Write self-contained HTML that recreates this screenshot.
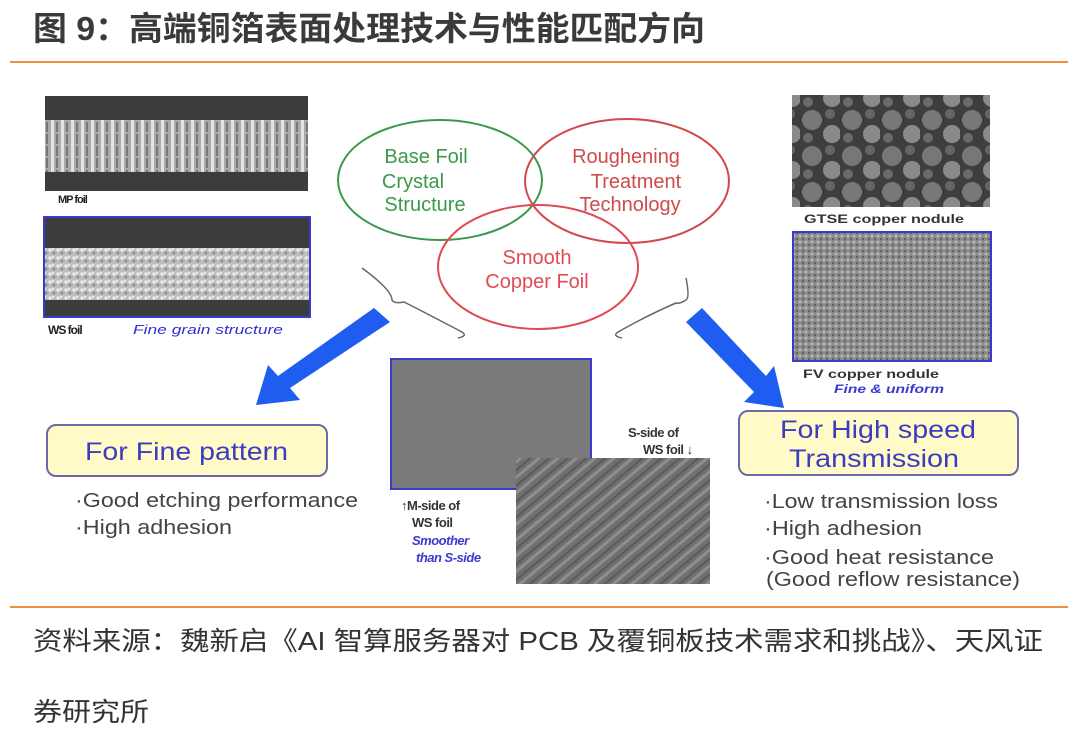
<!DOCTYPE html>
<html><head><meta charset="utf-8"><style>
html,body{margin:0;padding:0;background:#fff;width:1080px;height:735px;overflow:hidden}
svg{display:block}
.t{font-family:"Liberation Sans","Noto Sans CJK SC",sans-serif}
</style></head><body>
<svg width="1080" height="735" viewBox="0 0 1080 735" xmlns="http://www.w3.org/2000/svg">
<defs>
<pattern id="grain" width="8" height="8" patternUnits="userSpaceOnUse"><rect width="8" height="8" fill="#bdbdbd"/><circle cx="2" cy="2" r="1.6" fill="#eee"/><circle cx="6" cy="5" r="1.4" fill="#888"/><circle cx="5" cy="1" r="1" fill="#fff"/></pattern>
<pattern id="col" width="10" height="12" patternUnits="userSpaceOnUse"><rect width="10" height="12" fill="#aaa"/><rect x="1" width="3" height="12" fill="#e4e4e4"/><rect x="6" y="2" width="2" height="10" fill="#777"/></pattern>
<pattern id="fv" width="6" height="6" patternUnits="userSpaceOnUse"><rect width="6" height="6" fill="#8a8a8a"/><circle cx="2" cy="2" r="1.4" fill="#bbb"/><circle cx="5" cy="5" r="1" fill="#555"/></pattern>
<pattern id="nod" width="40" height="36" patternUnits="userSpaceOnUse"><rect width="40" height="36" fill="#3e3e3e"/><circle cx="12" cy="12" r="10" fill="#777"/><circle cx="32" cy="26" r="9" fill="#8a8a8a"/><circle cx="30" cy="6" r="5" fill="#666"/><circle cx="8" cy="30" r="5" fill="#6a6a6a"/></pattern>
<pattern id="diag" width="12" height="12" patternUnits="userSpaceOnUse" patternTransform="rotate(-40)"><rect width="12" height="12" fill="#707070"/><rect width="12" height="3" fill="#8e8e8e"/><rect y="7" width="12" height="2" fill="#5a5a5a"/></pattern>
</defs>
<text x="33" y="40" class="t" font-size="33" font-weight="bold" fill="#3a3a3a" textLength="672" lengthAdjust="spacingAndGlyphs">图 9：高端铜箔表面处理技术与性能匹配方向</text>
<rect x="10" y="61" width="1058" height="2" fill="#f0903a"/>

<rect x="45" y="96" width="263" height="95" fill="#3c3c3c"/>
<rect x="45" y="120" width="263" height="52" fill="url(#col)"/>
<text x="58" y="203" class="t" font-size="11" font-weight="bold" fill="#222" letter-spacing="-1">MP foil</text>
<rect x="44" y="217" width="266" height="100" fill="#3c3c3c" stroke="#3a3ad0" stroke-width="2"/>
<rect x="45" y="248" width="264" height="52" fill="url(#grain)"/>
<text x="48" y="334" class="t" font-size="12" font-weight="bold" fill="#222" letter-spacing="-1">WS foil</text>
<text x="133" y="334" class="t" font-size="13" font-style="italic" fill="#3030d0" textLength="150" lengthAdjust="spacingAndGlyphs">Fine grain structure</text>

<ellipse cx="440" cy="180" rx="102" ry="60" fill="none" stroke="#3a9a4a" stroke-width="2"/>
<ellipse cx="627" cy="181" rx="102" ry="62" fill="none" stroke="#d04a4a" stroke-width="2"/>
<ellipse cx="538" cy="267" rx="100" ry="62" fill="none" stroke="#e04a55" stroke-width="2"/>
<g class="t" font-size="20" text-anchor="middle">
<text x="426" y="163" fill="#3a9a4a">Base Foil</text>
<text x="413" y="188" fill="#3a9a4a">Crystal</text>
<text x="425" y="211" fill="#3a9a4a">Structure</text>
<text x="626" y="163" fill="#d04a4a">Roughening</text>
<text x="636" y="188" fill="#d04a4a">Treatment</text>
<text x="630" y="211" fill="#d04a4a">Technology</text>
<text x="537" y="264" fill="#e04a55">Smooth</text>
<text x="537" y="288" fill="#e04a55">Copper Foil</text>
</g>
<path d="M362 268 Q392 290 392 300 Q394 304 404 302 Q420 310 462 332 Q468 336 458 338" fill="none" stroke="#666" stroke-width="1.5"/>
<path d="M686 278 Q690 298 686 300 Q680 304 676 303 Q650 314 618 332 Q612 336 622 338" fill="none" stroke="#666" stroke-width="1.5"/>
<polygon points="374,308 390,322 290,388 300,400 256,405 268,365 278,376" fill="#1f5cf0"/>
<polygon points="702,308 686,322 754,392 744,402 784,408 774,366 766,376" fill="#1f5cf0"/>

<rect x="47" y="425" width="280" height="51" rx="9" fill="#fffac8" stroke="#6a6aa8" stroke-width="2"/>
<text x="85" y="460" class="t" font-size="25" fill="#3c3cc0" textLength="203" lengthAdjust="spacingAndGlyphs">For Fine pattern</text>
<text x="75" y="507" class="t" font-size="20" fill="#444" textLength="283" lengthAdjust="spacingAndGlyphs">·Good etching performance</text>
<text x="75" y="534" class="t" font-size="20" fill="#444" textLength="157" lengthAdjust="spacingAndGlyphs">·High adhesion</text>

<rect x="391" y="359" width="200" height="130" fill="#7a7a7a" stroke="#3a3ad0" stroke-width="2"/>
<rect x="516" y="458" width="194" height="126" fill="url(#diag)"/>
<text x="628" y="437" class="t" font-size="13" font-weight="bold" fill="#333" letter-spacing="-0.5">S-side of</text>
<text x="643" y="454" class="t" font-size="13" font-weight="bold" fill="#333" letter-spacing="-0.5">WS foil ↓</text>
<text x="401" y="510" class="t" font-size="13" font-weight="bold" fill="#333" letter-spacing="-0.5">↑M-side of</text>
<text x="412" y="527" class="t" font-size="13" font-weight="bold" fill="#333" letter-spacing="-0.5">WS foil</text>
<text x="412" y="545" class="t" font-size="13" font-weight="bold" font-style="italic" fill="#3a3ad0" letter-spacing="-0.5">Smoother</text>
<text x="416" y="562" class="t" font-size="13" font-weight="bold" font-style="italic" fill="#3a3ad0" letter-spacing="-0.5">than S-side</text>

<rect x="792" y="95" width="198" height="112" fill="url(#nod)"/>
<text x="804" y="223" class="t" font-size="12" font-weight="bold" fill="#333" textLength="160" lengthAdjust="spacingAndGlyphs">GTSE copper nodule</text>
<rect x="793" y="232" width="198" height="129" fill="url(#fv)" stroke="#3a3ad0" stroke-width="2"/>
<text x="803" y="378" class="t" font-size="12" font-weight="bold" fill="#333" textLength="136" lengthAdjust="spacingAndGlyphs">FV copper nodule</text>
<text x="834" y="393" class="t" font-size="12" font-weight="bold" font-style="italic" fill="#3a3ad0" textLength="110" lengthAdjust="spacingAndGlyphs">Fine &amp; uniform</text>

<rect x="739" y="411" width="279" height="64" rx="9" fill="#fffac8" stroke="#6a6aa8" stroke-width="2"/>
<text x="780" y="438" class="t" font-size="25" fill="#3c3cc0" textLength="196" lengthAdjust="spacingAndGlyphs">For High speed</text>
<text x="789" y="467" class="t" font-size="25" fill="#3c3cc0" textLength="170" lengthAdjust="spacingAndGlyphs">Transmission</text>
<text x="764" y="508" class="t" font-size="20" fill="#444" textLength="234" lengthAdjust="spacingAndGlyphs">·Low transmission loss</text>
<text x="764" y="535" class="t" font-size="20" fill="#444" textLength="158" lengthAdjust="spacingAndGlyphs">·High adhesion</text>
<text x="764" y="564" class="t" font-size="20" fill="#444" textLength="230" lengthAdjust="spacingAndGlyphs">·Good heat resistance</text>
<text x="766" y="586" class="t" font-size="20" fill="#444" textLength="254" lengthAdjust="spacingAndGlyphs">(Good reflow resistance)</text>

<rect x="10" y="606" width="1058" height="2" fill="#f0903a"/>
<text x="33" y="650" class="t" font-size="26" fill="#333" textLength="1010" lengthAdjust="spacingAndGlyphs">资料来源：魏新启《AI 智算服务器对 PCB 及覆铜板技术需求和挑战》、天风证</text>
<text x="33" y="721" class="t" font-size="26" fill="#333" textLength="116" lengthAdjust="spacingAndGlyphs">券研究所</text>
</svg>
</body></html>
